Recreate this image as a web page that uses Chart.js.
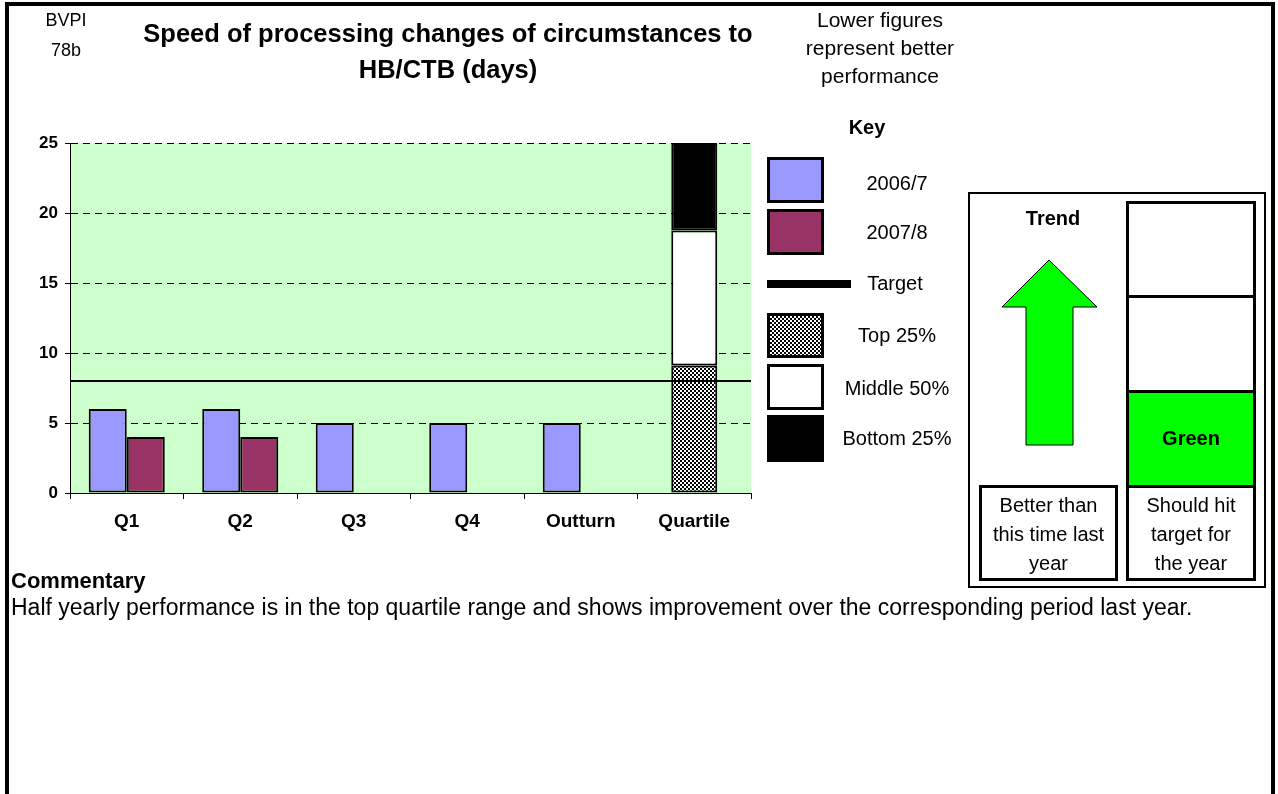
<!DOCTYPE html>
<html lang="en">
<head>
<meta charset="UTF-8">
<title>BVPI 78b</title>
<script src="https://cdn.jsdelivr.net/npm/chart.js@4.4.0/dist/chart.umd.min.js"></script>
<style>
  body { margin: 0; background: #fff; font-family: "Liberation Sans", Arial, sans-serif; color: #000; }
  #page { position: relative; width: 1278px; height: 794px; overflow: hidden; }
  #frame { position: absolute; left: 5px; top: 2px; width: 1262px; height: 820px; border: 4px solid #000; border-bottom: none; }
  #chart { position: absolute; left: 0; top: 0; }
  .t { position: absolute; text-align: center; white-space: nowrap; }
  .b { font-weight: bold; }
  .box { position: absolute; box-sizing: border-box; border: 3px solid #000; }
  .checker { background: repeating-conic-gradient(#000 0 25%, #fff 0 50%) 0 0 / 4px 4px; }
  svg { position: absolute; left: 0; top: 0; }
</style>
</head>
<body>
<div id="page">
  <div id="frame"></div>
  <canvas id="chart" width="1278" height="794"></canvas>

  <div class="t" style="left:26px; top:5px; width:80px; font-size:18px; line-height:30px;">BVPI<br>78b</div>
  <div class="t b" style="left:118px; top:15px; width:660px; font-size:25.5px; line-height:36px;">Speed of processing changes of circumstances to<br>HB/CTB (days)</div>
  <div class="t" style="left:780px; top:6px; width:200px; font-size:21px; line-height:28px;">Lower figures<br>represent better<br>performance</div>

  <!-- key -->
  <div class="t b" style="left:817px; top:114px; width:100px; font-size:20px; line-height:26px;">Key</div>
  <div class="box" style="left:767px; top:157px; width:57px; height:46px; background:#9999FF;"></div>
  <div class="box" style="left:767px; top:209px; width:57px; height:46px; background:#993366;"></div>
  <div style="position:absolute; left:767px; top:280px; width:84px; height:8px; background:#000;"></div>
  <div class="box checker" style="left:767px; top:313px; width:57px; height:45px;"></div>
  <div class="box" style="left:767px; top:364px; width:57px; height:46px; background:#fff;"></div>
  <div class="box" style="left:767px; top:415px; width:57px; height:47px; background:#000;"></div>
  <div class="t" style="left:830px; top:170px; width:134px; font-size:20px; line-height:26px;">2006/7</div>
  <div class="t" style="left:830px; top:219px; width:134px; font-size:20px; line-height:26px;">2007/8</div>
  <div class="t" style="left:828px; top:270px; width:134px; font-size:20px; line-height:26px;">Target</div>
  <div class="t" style="left:830px; top:322px; width:134px; font-size:20px; line-height:26px;">Top 25%</div>
  <div class="t" style="left:830px; top:375px; width:134px; font-size:20px; line-height:26px;">Middle 50%</div>
  <div class="t" style="left:830px; top:425px; width:134px; font-size:20px; line-height:26px;">Bottom 25%</div>

  <!-- trend / forecast panel -->
  <div class="box" style="left:968px; top:192px; width:298px; height:396px; border-width:2px;"></div>
  <div class="t b" style="left:1003px; top:205px; width:100px; font-size:20px; line-height:26px;">Trend</div>
  <div class="box" style="left:1126px; top:201px; width:130px; height:97px;"></div>
  <div class="box" style="left:1126px; top:295px; width:130px; height:98px;"></div>
  <div class="box" style="left:1126px; top:390px; width:130px; height:98px; background:#00FF00;"></div>
  <div class="box" style="left:1126px; top:485px; width:130px; height:96px;"></div>
  <div class="box" style="left:979px; top:485px; width:139px; height:96px;"></div>
  <div class="t b" style="left:1126px; top:425px; width:130px; font-size:20px; line-height:26px;">Green</div>
  <div class="t" style="left:979px; top:491px; width:139px; font-size:20px; line-height:29px;">Better than<br>this time last<br>year</div>
  <div class="t" style="left:1126px; top:491px; width:130px; font-size:20px; line-height:29px;">Should hit<br>target for<br>the year</div>
  <svg width="1278" height="794">
    <polygon points="1049,260 1097,307 1073,307 1073,445 1026,445 1026,307 1002,307" fill="#00FF00" stroke="#000" stroke-width="1"/>
  </svg>

  <div class="t b" style="left:11px; top:568px; text-align:left; font-size:22px; line-height:26px;">Commentary</div>
  <div class="t" style="left:11px; top:594px; text-align:left; font-size:23px; line-height:26px;">Half yearly performance is in the top quartile range and shows improvement over the corresponding period last year.</div>
</div>

<script>
  const categories = ['Q1', 'Q2', 'Q3', 'Q4', 'Outturn', 'Quartile'];
  const days2006 = [6, 6, 5, 5, 5, null];
  const days2007 = [4, 4, null, null, null, null];
  const targetDays = 8;
  // quartile band: top 25% up to 9.1, middle 50% up to 18.75, bottom 25% to the top of the axis
  const quartileTop = [null, null, null, null, null, 9.1];
  const quartileMiddle = [null, null, null, null, null, 9.65];
  const quartileBottom = [null, null, null, null, null, 6.25];
  const yMin = 0, yMax = 25, yStep = 5;

  const fontFamily = "'Liberation Sans', Arial, sans-serif";
  const canvas = document.getElementById('chart');
  const ctx = canvas.getContext('2d');

  function checkerPattern() {
    const tile = document.createElement('canvas');
    tile.width = 4; tile.height = 4;
    const g = tile.getContext('2d');
    g.fillStyle = '#fff'; g.fillRect(0, 0, 4, 4);
    g.fillStyle = '#000'; g.fillRect(0, 0, 2, 2); g.fillRect(2, 2, 2, 2);
    return ctx.createPattern(tile, 'repeat');
  }

  const plotBackground = {
    id: 'plotBackground',
    beforeDraw(chart) {
      const { ctx, chartArea: a } = chart;
      ctx.save();
      ctx.fillStyle = '#CCFFCC';
      ctx.fillRect(a.left, a.top, a.right - a.left, a.bottom - a.top);
      ctx.restore();
    }
  };

  // target runs edge to edge across the plot, placed by the y scale
  const targetLine = {
    id: 'targetLine',
    afterDatasetsDraw(chart) {
      const { ctx, chartArea: a, scales: { y } } = chart;
      const py = y.getPixelForValue(targetDays);
      ctx.save();
      ctx.strokeStyle = '#000';
      ctx.lineWidth = 2;
      ctx.beginPath();
      ctx.moveTo(a.left, py);
      ctx.lineTo(a.right, py);
      ctx.stroke();
      ctx.restore();
    }
  };

  const barBase = { borderColor: '#000', borderWidth: 2, borderSkipped: false };
  // yearly bars sit side by side; only the quartile bands carry a stack id, so only they pile up
  const yearBar = { ...barBase, grouped: true, categoryPercentage: 0.67, barPercentage: 1 };
  const bandBar = { ...barBase, grouped: false, stack: 'q', categoryPercentage: 1, barPercentage: 0.405 };

  new Chart(ctx, {
    type: 'bar',
    data: {
      labels: categories,
      datasets: [
        { ...yearBar, label: '2006/7', data: days2006, backgroundColor: '#9999FF' },
        { ...yearBar, label: '2007/8', data: days2007, backgroundColor: '#993366' },
        { ...bandBar, label: 'Top 25%', data: quartileTop, backgroundColor: checkerPattern() },
        { ...bandBar, label: 'Middle 50%', data: quartileMiddle, backgroundColor: '#fff' },
        { ...bandBar, label: 'Bottom 25%', data: quartileBottom, backgroundColor: '#000' }
      ]
    },
    options: {
      responsive: false,
      animation: false,
      layout: { padding: { left: 10, top: 143, right: 527, bottom: 261 } },
      plugins: { legend: { display: false }, tooltip: { enabled: false } },
      scales: {
        x: {
          type: 'category',
          offset: true,
          grid: { offset: true, drawOnChartArea: false, drawTicks: true, tickLength: 6, color: '#000' },
          border: { color: '#000', width: 1 },
          ticks: { color: '#000', padding: 11, font: { family: fontFamily, size: 19, weight: 'bold' } },
          afterFit(scale) { scale.height = 40; }
        },
        y: {
          min: yMin,
          max: yMax,
          ticks: { stepSize: yStep, color: '#000', padding: 7, font: { family: fontFamily, size: 17, weight: 'bold' } },
          grid: { color: '#000', lineWidth: 1, tickLength: 5, tickColor: '#000' },
          border: { display: true, color: '#000', width: 1, dash: [7, 5] },
          afterFit(scale) { scale.width = 60; }
        }
      }
    },
    plugins: [plotBackground, targetLine]
  });
</script>
</body>
</html>
